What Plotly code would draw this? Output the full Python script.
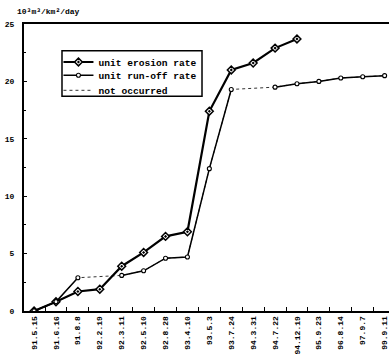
import plotly.graph_objects as go

dates = ["91.5.15", "91.6.16", "91.8.8", "92.2.19", "92.3.11", "92.5.10", "92.8.28",
         "93.4.10", "93.5.3", "93.7.24", "94.3.31", "94.7.22", "94.12.19", "95.9.23",
         "96.8.14", "97.9.7", "99.9.11"]
erosion = [0.0, 0.8, 1.7, 1.9, 3.9, 5.1, 6.5, 6.9, 17.4, 21.0, 21.6, 22.9, 23.7,
           None, None, None, None]
runoff = [0.0, 0.8, 2.9, None, 3.1, 3.5, 4.6, 4.7, 12.4, 19.3, None, 19.5, 19.8,
          20.0, 20.3, 20.4, 20.5]

FONT = "Liberation Mono"
LEG_FONT = dict(family=FONT, size=9.6, weight="bold")

fig = go.Figure()
fig.add_trace(go.Scatter(
    x=dates, y=runoff, name="not occurred", mode="lines", connectgaps=True,
    line=dict(color="#333", width=1, dash="dot"), legend="legend3",
))
fig.add_trace(go.Scatter(
    x=dates, y=erosion, name="unit erosion rate", mode="lines+markers",
    line=dict(color="black", width=2.2),
    marker=dict(symbol="diamond-dot", size=6, color="white",
                line=dict(color="black", width=1.5)),
    legend="legend",
))
fig.add_trace(go.Scatter(
    x=dates, y=runoff, name="unit run-off rate", mode="lines+markers",
    line=dict(color="black", width=1.5),
    marker=dict(symbol="circle", size=4, color="white",
                line=dict(color="black", width=1.1)),
    legend="legend2",
))

def leg(y):
    return dict(x=0.0944, y=y, xanchor="left", yanchor="middle",
                bgcolor="rgba(0,0,0,0)", borderwidth=0, font=LEG_FONT,
                itemwidth=30, tracegroupgap=0)

fig.update_layout(
    width=389, height=364,
    margin=dict(l=24, r=0, t=24, b=53),
    paper_bgcolor="white", plot_bgcolor="white",
    font=dict(family=FONT, color="black", size=9),
    showlegend=True,
    legend=leg(0.8676),
    legend2=leg(0.8213),
    legend3=leg(0.769),
    shapes=[dict(type="rect", xref="paper", yref="paper",
                 x0=0.1041, x1=0.4877, y0=0.748, y1=0.907,
                 line=dict(color="black", width=1.5), fillcolor="white",
                 layer="below")],
    xaxis=dict(
        type="category", categoryorder="array", categoryarray=dates,
        range=[-0.46, 16.2], showgrid=False, zeroline=False,
        showline=True, linecolor="black", linewidth=2, mirror=True,
        ticks="inside", tickson="boundaries", ticklen=4, tickcolor="black",
        tickangle=-90, tickfont=dict(family=FONT, size=8, weight="bold"),
    ),
    yaxis=dict(
        range=[0, 25], tickvals=[0, 5, 10, 15, 20, 25], showgrid=False,
        zeroline=False, showline=True, linecolor="black", linewidth=2,
        ticks="inside", ticklen=3, tickcolor="black",
        tickfont=dict(family=FONT, size=8, weight="bold"),
        minor=dict(tickvals=[2.5, 7.5, 12.5, 17.5, 22.5], ticks="inside",
                   ticklen=2, tickcolor="black"),
        ticklabelstandoff=6,
    ),
    annotations=[dict(
        text="10³m³/km²/day", xref="paper", yref="paper", x=-0.025, y=1.042,
        xanchor="left", yanchor="middle", showarrow=False,
        font=dict(family=FONT, size=8, weight="bold"),
    )],
)

fig.write_html("out.html", config={"displayModeBar": False},
               post_script="document.body.style.margin='0';")
